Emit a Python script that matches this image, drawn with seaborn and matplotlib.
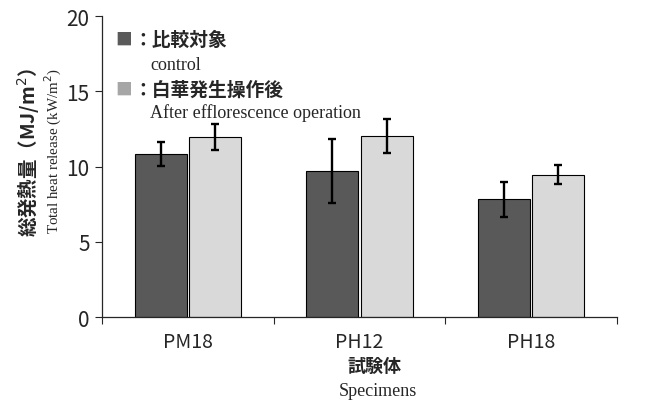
import numpy as np
import pandas as pd
import seaborn as sns
import matplotlib.pyplot as plt

specimens = ["PM18", "PH12", "PH18"]
conditions = ["control", "after"]
control_vals = [10.83, 9.68, 7.82]
control_err = [0.78, 2.12, 1.17]
after_vals = [11.96, 12.0, 9.46]
after_err = [0.88, 1.13, 0.63]
bar_colors = ["#595959", "#d9d9d9"]
legend_colors = ["#5a5a5a", "#a6a6a6"]

jp = "Noto Sans CJK JP"
en = "Liberation Serif"

sns.set_style("ticks")
plt.rcParams["font.family"] = [jp, "DejaVu Sans"]

df = pd.DataFrame({
    "specimen": specimens * 2,
    "cond": [conditions[0]] * 3 + [conditions[1]] * 3,
    "value": control_vals + after_vals,
})

fig = plt.figure(figsize=(6.61, 4.06), dpi=100)
ax = fig.add_axes([0.1543, 0.2167, 0.7791, 0.7413])

sns.barplot(data=df, x="specimen", y="value", hue="cond", order=specimens,
            hue_order=conditions, palette=bar_colors, width=0.635, gap=0.045,
            edgecolor="black", linewidth=0.8, errorbar=None, legend=False, ax=ax)

# error bars from the given values, centred on each bar
for cont, errs in zip(ax.containers, [control_err, after_err]):
    xs = [p.get_x() + p.get_width() / 2 for p in cont.patches]
    hs = [p.get_height() for p in cont.patches]
    ax.errorbar(xs, hs, yerr=errs, fmt="none", ecolor="black",
                elinewidth=1.7, capsize=2.6, capthick=1.7, zorder=5)

ax.set_ylim(0, 20)
ax.set_xlim(-0.5, 2.5)
ax.set_yticks([0, 5, 10, 15, 20])
ax.set_xticks([-0.5, 0.5, 1.5, 2.5])
ax.set_xticklabels([])
ax.set_xticks([0, 1, 2], minor=True)
ax.set_xticklabels(specimens, minor=True, fontsize=14)
ax.set_yticklabels([0, 5, 10, 15, 20], fontsize=15)
ax.tick_params(axis="x", which="minor", length=0, pad=10)
ax.tick_params(axis="x", which="major", length=5, width=0.8, direction="out")
ax.tick_params(axis="y", length=5, width=0.8, pad=4)
for s in ["left", "bottom"]:
    ax.spines[s].set_linewidth(0.9)
sns.despine(ax=ax)
ax.set_xlabel("")
ax.set_ylabel("")

# axis titles
fig.text(28 / 661, 1 - 68 / 406, "総発熱量（MJ/m$^2$）", rotation=90, ha="center",
         va="top", fontsize=14, fontweight="bold", family=[jp, "DejaVu Sans"])
fig.text(53 / 661, 1 - 68 / 406, "Total heat release (kW/m$^2$)", rotation=90,
         ha="center", va="top", fontsize=10.8, family=en)
fig.text(374 / 661, 1 - 366 / 406, "試験体", ha="center", va="center",
         fontsize=13, fontweight="bold")
fig.text(378 / 661, 1 - 392 / 406, "Specimens", ha="center", va="center",
         fontsize=13, family=en)

# legend drawn as text
leg_jp = ["比較対象", "白華発生操作後"]
leg_en = ["control", "After efflorescence operation"]
leg_y = [40, 90]
leg_en_y = [65, 113]
for i in range(2):
    fig.text(115 / 661, 1 - leg_y[i] / 406, "■", color=legend_colors[i],
             ha="left", va="center", fontsize=12)
    fig.text(133 / 661, 1 - leg_y[i] / 406, "：" + leg_jp[i], ha="left",
             va="center", fontsize=13.5, fontweight="bold")
    fig.text(150 / 661, 1 - leg_en_y[i] / 406, leg_en[i], ha="left",
             va="center", fontsize=13, family=en)

fig.savefig("out.png", dpi=100)
